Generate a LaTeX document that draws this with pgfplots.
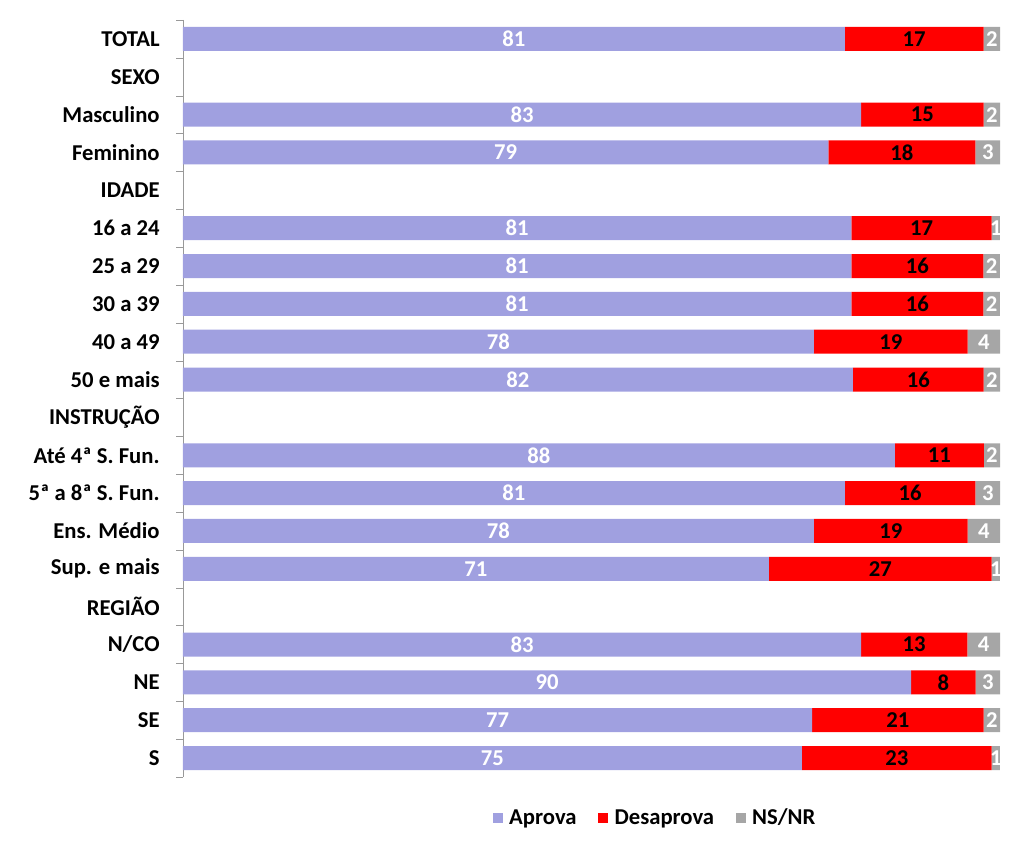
\documentclass[border=0pt]{standalone}
\usepackage{pgfplots}
\pgfplotsset{compat=1.18}
\usepackage{pgfplotstable}
\usepackage{fontspec}
\setmainfont{Carlito}

\definecolor{aprova}{RGB}{160,160,224}
\definecolor{desaprova}{RGB}{255,0,0}
\definecolor{nsnr}{RGB}{166,166,166}

% row index (0 = TOTAL, top), Aprova, Desaprova, NS/NR
\pgfplotstableread{
row a  d  n
0   81 17 2
2   83 15 2
3   79 18 3
5   81 17 1
6   81 16 2
7   81 16 2
8   78 19 4
9   82 16 2
11  88 11 2
12  81 16 3
13  78 19 4
14  71 27 1
16  83 13 4
17  90 8  3
18  77 21 2
19  75 23 1
}\dados

\begin{document}
\begin{tikzpicture}
\useasboundingbox (-137.25pt,-56.25pt) rectangle (630.75pt,582.75pt);
\begin{axis}[
    at={(0,0)}, anchor=south west,
    scale only axis,
    width=612.75pt, height=567.75pt,
    xbar stacked,
    bar width=18pt,
    xmin=0, xmax=100,
    ymin=-0.5, ymax=19.5,
    y dir=reverse,
    axis x line=none,
    axis y line=left,
    y axis line style={-, gray!80},
    ytick={0,...,19},
    yticklabels={TOTAL,SEXO,Masculino,Feminino,IDADE,16 a 24,25 a 29,30 a 39,40 a 49,50 e mais,INSTRUÇÃO,Até 4ª S. Fun.,5ª a 8ª S. Fun.,Ens. Médio,Sup. e mais,REGIÃO,N/CO,NE,SE,S},
    yticklabel style={font=\fontsize{17}{20}\selectfont\bfseries, xshift=-14pt},
    major tick length=0pt,
    minor ytick={-0.5,0.5,...,19.5},
    minor tick length=5pt,
    tick align=outside,
    tick style={gray!80},
    point meta=explicit,
    /pgf/number format/assume math mode=true,
    nodes near coords,
    every node near coord/.append style={font=\fontsize{17}{20}\selectfont\bfseries},
    legend columns=3,
    legend style={at={(0.578,-0.054)}, anchor=center, draw=none,
        font=\fontsize{17}{20}\selectfont\bfseries,
        /tikz/every even column/.append style={column sep=14pt}},
    legend image code/.code={\fill[#1] (0pt,-3.5pt) rectangle (7.5pt,4pt);},
]
\addplot[fill=aprova, draw=none, every node near coord/.append style={text=white}]
    table[y=row, x expr={100*\thisrow{a}/(\thisrow{a}+\thisrow{d}+\thisrow{n})}, meta=a] {\dados};
\addplot[fill=desaprova, draw=none, every node near coord/.append style={text=black}]
    table[y=row, x expr={100*\thisrow{d}/(\thisrow{a}+\thisrow{d}+\thisrow{n})}, meta=d] {\dados};
\addplot[fill=nsnr, draw=none, every node near coord/.append style={text=white}]
    table[y=row, x expr={100*\thisrow{n}/(\thisrow{a}+\thisrow{d}+\thisrow{n})}, meta=n] {\dados};
\legend{\hspace{3pt}Aprova,\hspace{3pt}Desaprova,\hspace{3pt}NS/NR}
\end{axis}
\end{tikzpicture}
\end{document}
